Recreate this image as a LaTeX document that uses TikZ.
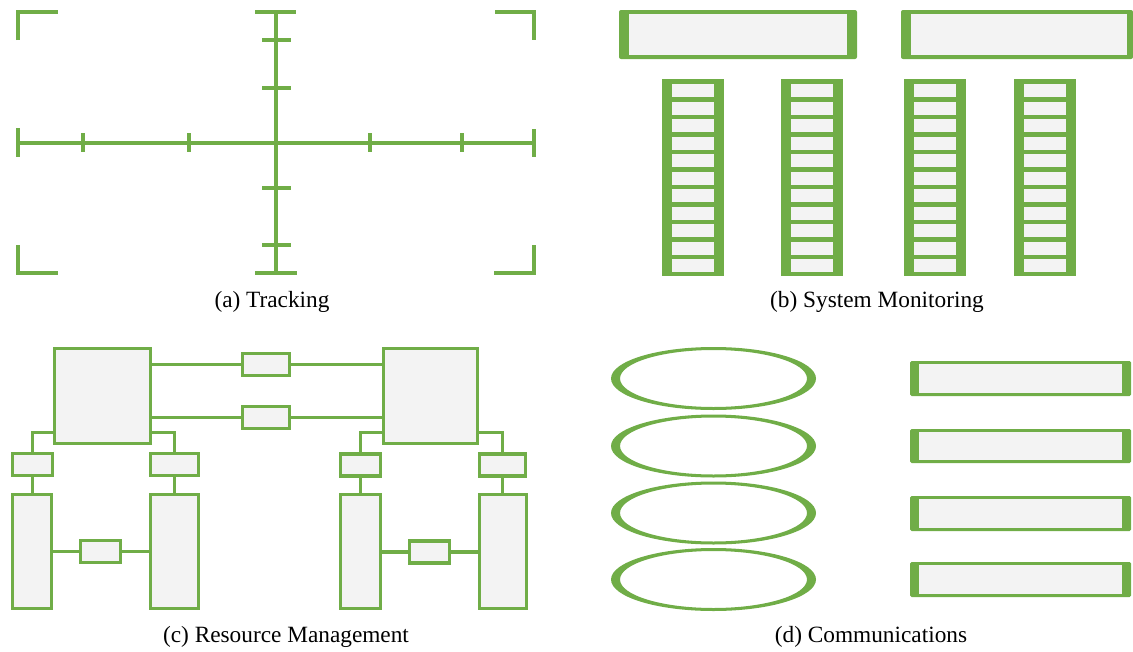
\documentclass[tikz,border=0pt]{standalone}
\usepackage{fontspec}
\setmainfont{Liberation Serif}
\definecolor{leaf}{HTML}{70AD47}
\definecolor{panel}{HTML}{F3F3F3}
\tikzset{
  axis/.style={draw=leaf, line width=4pt},
  cbox/.style={draw=leaf, fill=panel, line width=3.3pt, inner sep=0pt, outer sep=0pt, rectangle},
  link/.style={draw=leaf, line width=3.3pt},
  caption/.style={anchor=base, font=\fontsize{23.3}{28}\selectfont, inner sep=0pt},
}
\newcommand{\barbox}[4]{% outer x1,y1,x2,y2 ; inner borders thick left/right
  \fill[leaf, rounded corners=1.5pt] (#1,#2) rectangle (#3,#4);
}
\begin{document}
\begin{tikzpicture}[x=1pt, y=-1pt]
\useasboundingbox (0,0) rectangle (1133,651);

% ---------- (a) Tracking: reticle ----------
% corner brackets
\draw[axis] (18,40) -- (18,12) -- (58,12);
\draw[axis] (495,12) -- (534,12) -- (534,40);
\draw[axis] (18,245) -- (18,273) -- (58,273);
\draw[axis] (494,273) -- (534,273) -- (534,245);
% main axes
\draw[axis] (276,12) -- (276,273);
\draw[axis] (18,143) -- (534,143);
% end caps
\draw[axis] (255,12) -- (296,12);
\draw[axis] (255,273) -- (297,273);
\draw[axis] (18,128) -- (18,157);
\draw[axis] (534,129) -- (534,157);
% ticks
\foreach \ty in {39.5,88,188,245} \draw[axis] (262,\ty) -- (291,\ty);
\foreach \tx in {83,189,370,462} \draw[axis] (\tx,133) -- (\tx,152);
\node[caption] (capa) at (272,307) {(a) Tracking};

% ---------- (b) System Monitoring ----------
% wide bars
\fill[leaf, rounded corners=2pt] (619,10) rectangle (857,59);
\fill[panel] (629,14) rectangle (847,55);
\fill[leaf, rounded corners=2pt] (901,10) rectangle (1133,59);
\fill[panel] (911,14) rectangle (1127,55);
% ladders
\foreach \lx in {662,781,904,1014}{
  \fill[leaf] (\lx,79) rectangle ({\lx+62},276);
  \foreach \k in {0,...,10}{
    \fill[panel] ({\lx+10},{84+17.5*\k}) rectangle ({\lx+52},{97+17.5*\k});
  }
}
\node[caption] (capb) at (877,307) {(b) System Monitoring};

% ---------- (c) Resource Management ----------
\node[cbox, minimum width=96pt, minimum height=95pt] (bigL) at (102.5,396) {};
\node[cbox, minimum width=94pt, minimum height=95pt] (bigR) at (430.5,396) {};
\node[cbox, minimum width=47pt, minimum height=22pt] (lnkA) at (266,364.5) {};
\node[cbox, minimum width=47pt, minimum height=22pt] (lnkB) at (266,417.5) {};
\node[cbox, minimum width=40pt, minimum height=22pt] (sL1) at (32.5,464.5) {};
\node[cbox, minimum width=48pt, minimum height=22pt] (sL2) at (174.5,464.5) {};
\node[cbox, minimum width=40pt, minimum height=22pt] (sR1) at (360.5,465) {};
\node[cbox, minimum width=46pt, minimum height=22pt] (sR2) at (502.5,465) {};
\node[cbox, minimum width=39pt, minimum height=114pt] (tL1) at (32,551.5) {};
\node[cbox, minimum width=48pt, minimum height=114pt] (tL2) at (174.5,551.5) {};
\node[cbox, minimum width=40pt, minimum height=114pt] (tR1) at (360.5,551.5) {};
\node[cbox, minimum width=47pt, minimum height=114pt] (tR2) at (503,551.5) {};
\node[cbox, minimum width=40pt, minimum height=22pt] (mL) at (100.5,551.5) {};
\node[cbox, minimum width=40pt, minimum height=22pt] (mR) at (429.5,552) {};
% links between the two main blocks
\draw[link] (lnkA.west -| bigL.east) -- (lnkA.west);
\draw[link] (lnkA.east) -- (lnkA.east -| bigR.west);
\draw[link] (lnkB.west -| bigL.east) -- (lnkB.west);
\draw[link] (lnkB.east) -- (lnkB.east -| bigR.west);
% branches down to the side units
\draw[link] ([yshift=11pt]bigL.south west) -| (sL1.north);
\draw[link] ([yshift=11pt]bigL.south east) -| (sL2.north);
\draw[link] ([yshift=11pt]bigR.south west) -| (sR1.north);
\draw[link] ([yshift=11pt]bigR.south east) -| (sR2.north);
\draw[link] (sL1.south) -- (sL1.south |- tL1.north);
\draw[link] (sL2.south) -- (sL2.south |- tL2.north);
\draw[link] (sR1.south) -- (sR1.south |- tR1.north);
\draw[link] (sR2.south) -- (sR2.south |- tR2.north);
% bridges between tall units
\draw[link] (mL.west -| tL1.east) -- (mL.west);
\draw[link] (mL.east) -- (mL.east -| tL2.west);
\draw[link] (mR.west -| tR1.east) -- (mR.west);
\draw[link] (mR.east) -- (mR.east -| tR2.west);
\node[caption] (capc) at (286,642) {(c) Resource Management};

% ---------- (d) Communications ----------
\foreach \ey in {378.5,446,513,579.5}{
  \fill[leaf, even odd rule] (713.5,\ey) ellipse [x radius=102.5, y radius=31.5]
                             (713.5,\ey) ellipse [x radius=93.5, y radius=28.5];
}
\foreach \by/\bh in {361/35,429/34,496/35,562/35}{
  \fill[leaf, rounded corners=1.5pt] (910,\by) rectangle (1131,{\by+\bh});
  \fill[panel] (919,{\by+3}) rectangle (1122,{\by+\bh-3});
}
\node[caption] (capd) at (871,642) {(d) Communications};
\end{tikzpicture}
\end{document}
